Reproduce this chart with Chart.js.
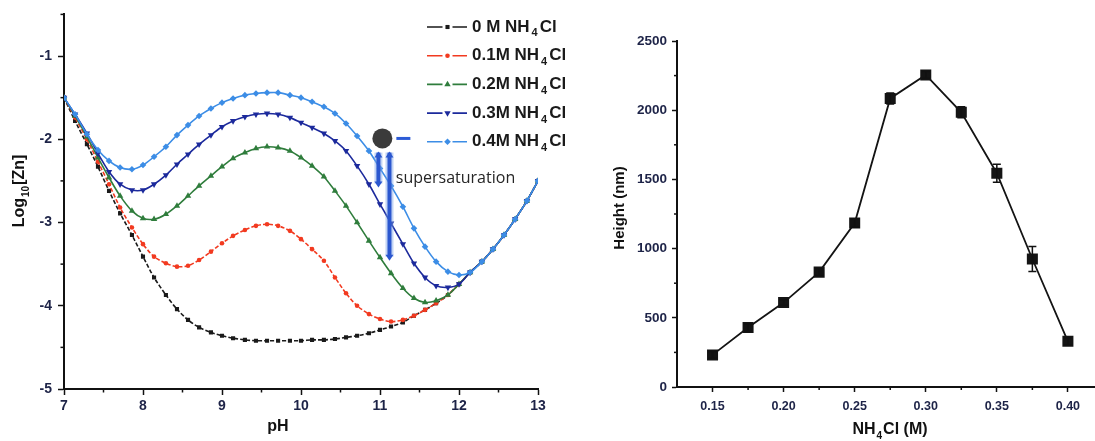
<!DOCTYPE html>
<html>
<head>
<meta charset="utf-8">
<script src="https://cdn.jsdelivr.net/npm/chart.js@4.4.1/dist/chart.umd.min.js"></script>
<style>
  html, body { margin: 0; padding: 0; background: #fff; }
  body { width: 1095px; height: 441px; overflow: hidden; position: relative; }
  #c1 { position: absolute; left: 0; top: 0; }
  #c2 { position: absolute; left: 590px; top: 0; }
</style>
</head>
<body>
<canvas id="c1" width="585" height="441"></canvas>
<canvas id="c2" width="512" height="441"></canvas>
<script>
// ---------------- DATA: left panel (log10[Zn] vs pH) ----------------
const pH = [7.00,7.14,7.29,7.43,7.57,7.71,7.86,8.00,8.14,8.29,8.43,8.57,8.71,8.86,9.00,9.14,9.29,9.43,9.57,9.71,9.86,10.00,10.14,10.29,10.43,10.57,10.71,10.86,11.00,11.14,11.29,11.43,11.57,11.71,11.86,12.00,12.14,12.29,12.43,12.57,12.71,12.86,13.00];

const zn_0M = [-1.50,-1.78,-2.06,-2.33,-2.62,-2.89,-3.15,
  -3.41,-3.66,-3.87,-4.04,-4.17,-4.26,-4.32,
  -4.36,-4.39,-4.41,-4.42,-4.42,-4.42,-4.42,
  -4.42,-4.41,-4.41,-4.40,-4.38,-4.36,-4.33,
  -4.29,-4.25,-4.20,-4.12,-4.05,-3.97,-3.87,
  -3.74,-3.60,-3.47,-3.32,-3.15,-2.96,-2.74,-2.50];

const zn_01M = [-1.50,-1.74,-2.00,-2.27,-2.54,-2.82,-3.06,
  -3.26,-3.41,-3.49,-3.53,-3.52,-3.45,-3.35,
  -3.25,-3.16,-3.09,-3.04,-3.02,-3.04,-3.10,
  -3.20,-3.32,-3.46,-3.66,-3.85,-4.00,-4.10,
  -4.16,-4.19,-4.17,-4.12,-4.05,-3.97,-3.87,
  -3.74,-3.60,-3.47,-3.32,-3.15,-2.96,-2.74,-2.50];

const zn_02M = [-1.50,-1.72,-1.97,-2.22,-2.46,-2.68,-2.86,
  -2.95,-2.96,-2.90,-2.80,-2.68,-2.56,-2.44,
  -2.33,-2.23,-2.16,-2.11,-2.09,-2.10,-2.14,
  -2.22,-2.32,-2.45,-2.62,-2.80,-3.00,-3.22,
  -3.42,-3.61,-3.79,-3.91,-3.96,-3.94,-3.87,
  -3.74,-3.60,-3.47,-3.32,-3.15,-2.96,-2.74,-2.50];

const zn_03M = [-1.50,-1.70,-1.93,-2.17,-2.39,-2.54,-2.61,
  -2.61,-2.54,-2.43,-2.30,-2.18,-2.06,-1.95,
  -1.85,-1.78,-1.73,-1.70,-1.69,-1.70,-1.74,
  -1.80,-1.86,-1.93,-2.02,-2.14,-2.32,-2.54,
  -2.78,-3.01,-3.26,-3.49,-3.66,-3.76,-3.78,
  -3.74,-3.60,-3.47,-3.32,-3.15,-2.96,-2.74,-2.50];

const zn_04M = [-1.50,-1.70,-1.94,-2.13,-2.26,-2.34,-2.36,
  -2.31,-2.21,-2.09,-1.95,-1.83,-1.72,-1.63,
  -1.56,-1.51,-1.47,-1.45,-1.44,-1.44,-1.47,
  -1.50,-1.55,-1.61,-1.69,-1.81,-1.96,-2.14,
  -2.35,-2.56,-2.81,-3.07,-3.29,-3.47,-3.59,
  -3.63,-3.60,-3.47,-3.32,-3.15,-2.96,-2.74,-2.50];

const seriesLabels = ['0 M NH₄Cl','0.1M NH₄Cl','0.2M NH₄Cl','0.3M NH₄Cl','0.4M NH₄Cl'];
const pHTicks = [7,8,9,10,11,12,13];
const logTicks = [-5,-4,-3,-2,-1];

// ---------------- DATA: right panel (height vs NH4Cl) ----------------
const nh4cl = [0.15,0.175,0.20,0.225,0.25,0.275,0.30,0.325,0.35,0.375,0.40];
const heightNm = [232,430,610,830,1185,2085,2255,1985,1545,925,330];
const heightErr = [25,25,20,25,30,40,25,40,65,90,25];
const concTicks = [0.15,0.20,0.25,0.30,0.35,0.40];
const heightTicks = [0,500,1000,1500,2000,2500];

// ---------------- styles ----------------
const FONT = "'Liberation Sans', Arial, Helvetica, sans-serif";
const TICKCOL = '#1d2347';
const seriesStyle = [
  {color:'#1a1a1a', point:'rect',     radius:2.9, rot:0,   dash:[4,2]},
  {color:'#f23a20', point:'circle',   radius:2.3, rot:0,   dash:[4,2]},
  {color:'#2f7d3c', point:'triangle', radius:3.7, rot:0,   dash:[]},
  {color:'#1c2a9c', point:'triangle', radius:3.7, rot:180, dash:[]},
  {color:'#3c8de6', point:'rectRot',  radius:3.3, rot:0,   dash:[]}
];

// ---------------- helpers ----------------
const SUBS = {'₀':'0','₁':'1','₂':'2','₃':'3','₄':'4','₅':'5','₆':'6','₇':'7','₈':'8','₉':'9'};
function segsOf(text){
  const segs=[];
  for (const ch of text){
    const sub = SUBS[ch] !== undefined;
    const c = sub ? SUBS[ch] : ch;
    const last = segs[segs.length-1];
    if (last && last.sub === sub) last.t += c; else segs.push({t:c, sub});
  }
  return segs;
}
function drawRich(ctx, text, x, y, o){
  const segs = segsOf(text);
  const w = o.weight || 'bold';
  const mainF = `${w} ${o.size}px ${FONT}`;
  const subF = `${w} ${Math.round(o.size*0.62)}px ${FONT}`;
  const gap = o.subGap || 0;
  let total = 0;
  segs.forEach(s=>{ ctx.font = s.sub?subF:mainF; s.w = ctx.measureText(s.t).width + (s.sub?gap*2:0); total += s.w; });
  let cx = o.align==='center' ? x-total/2 : (o.align==='right' ? x-total : x);
  ctx.fillStyle = o.color || '#111';
  ctx.textBaseline = 'middle';
  ctx.textAlign = 'left';
  segs.forEach(s=>{
    ctx.font = s.sub?subF:mainF;
    ctx.fillText(s.t, cx + (s.sub?gap:0), s.sub ? y + o.size*0.38 : y);
    cx += s.w;
  });
}

const minorTicks = {
  id:'minorTicks',
  afterDraw(chart, args, o){
    const ctx = chart.ctx, xs = chart.scales.x, ys = chart.scales.y;
    ctx.save(); ctx.strokeStyle='#111'; ctx.lineWidth=1.5;
    (o.x||[]).forEach(v=>{ const p=xs.getPixelForValue(v); ctx.beginPath(); ctx.moveTo(p, xs.top); ctx.lineTo(p, xs.top+o.len); ctx.stroke(); });
    (o.y||[]).forEach(v=>{ const p=ys.getPixelForValue(v); ctx.beginPath(); ctx.moveTo(ys.right, p); ctx.lineTo(ys.right-o.len, p); ctx.stroke(); });
    ctx.restore();
  }
};

const titles = {
  id:'titles',
  afterDraw(chart, args, o){
    const ctx = chart.ctx;
    ctx.save();
    (o.items||[]).forEach(t=>{
      ctx.save();
      ctx.translate(t.x, t.y);
      if (t.rot) ctx.rotate(t.rot);
      drawRich(ctx, t.text, 0, 0, {size:t.size, align:'center', color:'#111', subGap:t.subGap||0});
      ctx.restore();
    });
    ctx.restore();
  }
};

// left panel legend + annotation
const leftExtras = {
  id:'leftExtras',
  afterDatasetsDraw(chart){
    const ctx = chart.ctx, xs = chart.scales.x, ys = chart.scales.y;
    ctx.save();
    // annotation: circle, dash, supersaturation arrows
    const cx = xs.getPixelForValue(11.03), cy = ys.getPixelForValue(-1.99);
    ctx.fillStyle = '#3b3b3b';
    ctx.beginPath(); ctx.arc(cx, cy, 10, 0, Math.PI*2); ctx.fill();
    ctx.strokeStyle = '#2c5bd6'; ctx.lineWidth = 3;
    ctx.beginPath(); ctx.moveTo(cx+14, cy); ctx.lineTo(cx+28, cy); ctx.stroke();
    function arrow(xv, y0v, y1v){
      const x = xs.getPixelForValue(xv), y0 = ys.getPixelForValue(y0v), y1 = ys.getPixelForValue(y1v);
      ctx.strokeStyle = 'rgba(120,160,230,0.45)'; ctx.lineWidth = 8;
      ctx.beginPath(); ctx.moveTo(x, y0); ctx.lineTo(x, y1-4); ctx.stroke();
      ctx.strokeStyle = '#2b57cf'; ctx.lineWidth = 4;
      ctx.beginPath(); ctx.moveTo(x, y0); ctx.lineTo(x, y1-5); ctx.stroke();
      ctx.fillStyle = '#2b57cf';
      ctx.beginPath(); ctx.moveTo(x-4, y1-6); ctx.lineTo(x+4, y1-6); ctx.lineTo(x, y1); ctx.closePath(); ctx.fill();
      ctx.beginPath(); ctx.moveTo(x-4, y0+5); ctx.lineTo(x+4, y0+5); ctx.lineTo(x, y0-1); ctx.closePath(); ctx.fill();
    }
    arrow(10.98, -2.16, -2.58);
    arrow(11.12, -2.16, -3.46);
    ctx.font = "16px 'Open Sans', sans-serif";
    ctx.fillStyle = '#262626'; ctx.textBaseline = 'middle'; ctx.textAlign = 'left';
    ctx.fillText('supersaturation', xs.getPixelForValue(11.2), ys.getPixelForValue(-2.47));

    // legend
    const lx0 = 427, lx1 = 467, mx = 447.5, tx = 472;
    chart.data.datasets.forEach((ds, i)=>{
      const st = seriesStyle[i];
      const y = 27 + i*28.7;
      ctx.strokeStyle = st.color; ctx.lineWidth = 1.6; ctx.setLineDash([]);
      ctx.beginPath(); ctx.moveTo(lx0, y); ctx.lineTo(mx-5, y); ctx.moveTo(mx+5, y); ctx.lineTo(lx1, y); ctx.stroke();
      ctx.fillStyle = st.color;
      Chart.helpers.drawPoint(ctx, {pointStyle: st.point, rotation: st.rot, radius: st.radius, borderWidth: 0}, mx, y);
      drawRich(ctx, ds.label, tx, y, {size:17, color:'#1a1a1a', subGap:2});
    });
    ctx.restore();
  }
};

const errorBars = {
  id:'errorBars',
  afterDatasetsDraw(chart){
    const ctx = chart.ctx, xs = chart.scales.x, ys = chart.scales.y;
    ctx.save(); ctx.strokeStyle = '#111'; ctx.lineWidth = 1.5;
    nh4cl.forEach((c, i)=>{
      const x = xs.getPixelForValue(c);
      const yt = ys.getPixelForValue(heightNm[i] + heightErr[i]);
      const yb = ys.getPixelForValue(heightNm[i] - heightErr[i]);
      ctx.beginPath();
      ctx.moveTo(x, yt); ctx.lineTo(x, yb);
      ctx.moveTo(x-4, yt); ctx.lineTo(x+4, yt);
      ctx.moveTo(x-4, yb); ctx.lineTo(x+4, yb);
      ctx.stroke();
    });
    ctx.restore();
  }
};

// ---------------- left chart ----------------
const leftSeries = [zn_0M, zn_01M, zn_02M, zn_03M, zn_04M];
new Chart(document.getElementById('c1'), {
  type:'line',
  data:{
    datasets: leftSeries.map((vals, i)=>({
      label: seriesLabels[i],
      data: pH.map((x, j)=>({x, y: vals[j]})),
      borderColor: seriesStyle[i].color,
      backgroundColor: seriesStyle[i].color,
      pointBackgroundColor: seriesStyle[i].color,
      borderWidth: 1.6,
      borderDash: seriesStyle[i].dash,
      pointStyle: seriesStyle[i].point,
      pointRotation: seriesStyle[i].rot,
      pointRadius: seriesStyle[i].radius,
      pointBorderWidth: 0,
      tension: 0.3,
      fill: false,
      order: 4 - i
    }))
  },
  options:{
    responsive:false, animation:false, events:[],
    layout:{padding:{top:14, right:47, left:0, bottom:0}},
    plugins:{
      legend:{display:false}, tooltip:{enabled:false},
      minorTicks:{len:3.5, x:[7.5,8.5,9.5,10.5,11.5,12.5], y:[-4.5,-3.5,-2.5,-1.5,-0.5]},
      titles:{items:[
        {text:'Log₁₀[Zn]', x:20, y:191, rot:-Math.PI/2, size:16, subGap:1},
        {text:'pH', x:278, y:427, size:16}
      ]}
    },
    scales:{
      x:{
        type:'linear', min:7, max:13,
        afterBuildTicks: s=>{ s.ticks = pHTicks.map(v=>({value:v})); },
        afterFit: s=>{ s.height = 52; },
        grid:{drawOnChartArea:false, tickLength:6, tickColor:'#111', tickWidth:1.5},
        border:{color:'#111', width:2},
        ticks:{font:{family:FONT, size:14, weight:'bold'}, color:TICKCOL, padding:3, maxRotation:0, callback:v=>String(v)}
      },
      y:{
        type:'linear', min:-5, max:-0.5,
        afterBuildTicks: s=>{ s.ticks = logTicks.map(v=>({value:v})); },
        afterFit: s=>{ s.width = 64; },
        grid:{drawOnChartArea:false, tickLength:6, tickColor:'#111', tickWidth:1.5},
        border:{color:'#111', width:2},
        ticks:{font:{family:FONT, size:14, weight:'bold'}, color:TICKCOL, padding:6, callback:v=>String(v)}
      }
    }
  },
  plugins:[minorTicks, titles, leftExtras]
});

// ---------------- right chart ----------------
new Chart(document.getElementById('c2'), {
  type:'line',
  data:{
    datasets:[{
      label:'Height (nm)',
      data: nh4cl.map((x, i)=>({x, y: heightNm[i]})),
      borderColor:'#141414', backgroundColor:'#141414', pointBackgroundColor:'#141414',
      borderWidth:1.8, pointStyle:'rect', pointRadius:7.8, pointBorderWidth:0,
      tension:0, fill:false
    }]
  },
  options:{
    responsive:false, animation:false, events:[],
    layout:{padding:{top:41, right:0, left:0, bottom:0}},
    plugins:{
      legend:{display:false}, tooltip:{enabled:false},
      minorTicks:{len:3, x:[0.175,0.225,0.275,0.325,0.375], y:[250,750,1250,1750,2250]},
      titles:{items:[
        {text:'Height (nm)', x:30, y:208, rot:-Math.PI/2, size:15},
        {text:'NH₄Cl (M)', x:300, y:430, size:16, subGap:1}
      ]}
    },
    scales:{
      x:{
        type:'linear', min:0.125, max:0.4185,
        afterBuildTicks: s=>{ s.ticks = concTicks.map(v=>({value:v})); },
        afterFit: s=>{ s.height = 54; },
        grid:{drawOnChartArea:false, tickLength:5, tickColor:'#111', tickWidth:1.5},
        border:{color:'#111', width:2},
        ticks:{font:{family:FONT, size:12.5, weight:'bold'}, color:TICKCOL, padding:7, maxRotation:0, callback:v=>Number(v).toFixed(2)}
      },
      y:{
        type:'linear', min:0, max:2500,
        afterBuildTicks: s=>{ s.ticks = heightTicks.map(v=>({value:v})); },
        afterFit: s=>{ s.width = 87; },
        grid:{drawOnChartArea:false, tickLength:5, tickColor:'#111', tickWidth:1.5},
        border:{color:'#111', width:2},
        ticks:{font:{family:FONT, size:13.5, weight:'bold'}, color:TICKCOL, padding:5, callback:v=>String(v)}
      }
    }
  },
  plugins:[minorTicks, titles, errorBars]
});
</script>
</body>
</html>
